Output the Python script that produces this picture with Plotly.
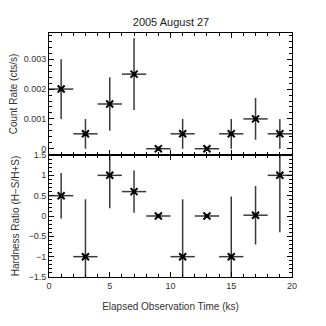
import plotly.graph_objects as go
from plotly.subplots import make_subplots

# time bins (ks)
t = [1, 3, 5, 7, 9, 11, 13, 15, 17, 19]
t_err = [1, 1, 1, 1, 1, 1, 1, 1, 1, 1]

# count rate (cts/s)
rate = [0.002, 0.0005, 0.0015, 0.0025, 0.0, 0.0005, 0.0, 0.0005, 0.001, 0.0005]
rate_err = [0.001, 0.0005, 0.0009, 0.0012, 0.0, 0.0005, 0.0, 0.0005, 0.0007, 0.0005]

# hardness ratio
hr = [0.5, -1.0, 1.0, 0.6, 0.0, -1.0, 0.0, -1.0, 0.02, 1.0]
hr_err = [0.56, 1.41, 0.81, 0.52, 0.0, 1.41, 0.0, 1.48, 0.72, 1.4]

bar_col = "#3a3a3a"
font = "Liberation Sans, Arial, sans-serif"

fig = make_subplots(rows=2, cols=1, shared_xaxes=True, vertical_spacing=0)


def add_points(y, yerr, row):
    fig.add_trace(go.Scatter(
        x=t, y=y, mode="markers",
        error_x=dict(type="data", array=t_err, width=0, thickness=1.5, color=bar_col),
        error_y=dict(type="data", array=yerr, width=0, thickness=1.5, color=bar_col),
        marker=dict(symbol="x-thin", size=7, line=dict(width=2, color="black"), color="black"),
        showlegend=False,
    ), row=row, col=1)
    fig.add_trace(go.Scatter(
        x=t, y=y, mode="markers",
        marker=dict(symbol="square", size=4, color="black"),
        showlegend=False,
    ), row=row, col=1)


add_points(rate, rate_err, 1)
add_points(hr, hr_err, 2)

axis_style = dict(
    showline=True, linecolor="black", linewidth=1, mirror="allticks",
    ticks="inside", ticklen=5, tickcolor="black", showgrid=False, zeroline=False,
    automargin=False,
    tickfont=dict(size=9, color="#333", family=font),
)

fig.update_xaxes(**axis_style, range=[0, 20], dtick=5,
                 minor=dict(dtick=1, ticks="inside", ticklen=3, tickcolor="black"))
fig.update_xaxes(title=dict(text="Elapsed Observation Time (ks)", font=dict(size=10, color="#333", family=font), standoff=13),
                 row=2, col=1)
fig.update_yaxes(**axis_style)
fig.update_yaxes(range=[-0.00021, 0.00388], dtick=0.001, tickformat=".3~f",
                 minor=dict(dtick=0.0002, ticks="inside", ticklen=3, tickcolor="black"),
                 title=dict(text="Count Rate (cts/s)", font=dict(size=10, color="#333", family=font), standoff=6),
                 row=1, col=1)
fig.update_yaxes(range=[-1.5, 1.5], dtick=0.5,
                 minor=dict(dtick=0.1, ticks="inside", ticklen=3, tickcolor="black"),
                 title=dict(text="Hardness Ratio (H\u2212S/H+S)", font=dict(size=10, color="#333", family=font), standoff=6),
                 row=2, col=1)

# page body adds an 8px offset, so margins are shifted to compensate
fig.update_layout(
    width=326, height=326,
    margin=dict(l=41, r=42, t=25, b=57),
    paper_bgcolor="white", plot_bgcolor="white",
    title=dict(text="2005 August 27", x=0.5, xanchor="center", y=0.957, yanchor="middle",
               font=dict(size=11, color="#222", family=font)),
)

fig.write_html("out.html")
